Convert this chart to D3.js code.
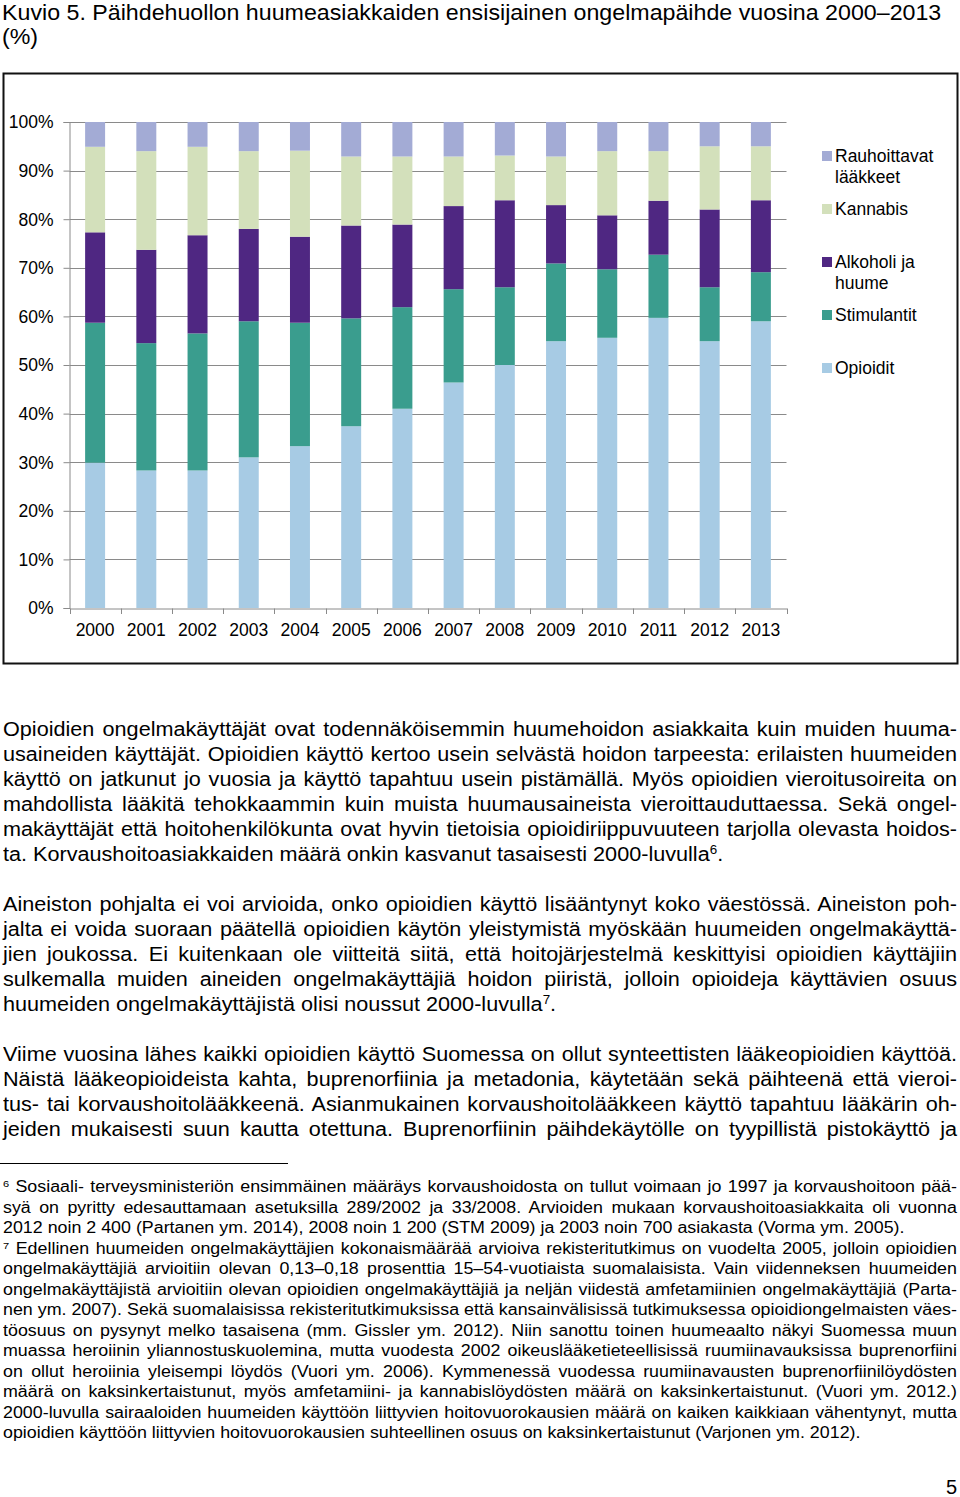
<!DOCTYPE html>
<html><head><meta charset="utf-8">
<script src="https://cdnjs.cloudflare.com/ajax/libs/d3/7.8.5/d3.min.js"></script>
<style>
html,body{margin:0;padding:0;background:#fff;}
#page{position:relative;width:960px;height:1497px;overflow:hidden;font-family:"Liberation Sans",Arial,sans-serif;color:#000;}
svg{position:absolute;left:0;top:0;}
.ln{position:absolute;left:3px;white-space:nowrap;text-align:justify;text-align-last:justify;transform-origin:0 0;}
.ln.last{text-align-last:left;}
.body{font-size:19.4px;line-height:25px;height:25px;width:855.6px;transform:scaleX(1.115);}
.fn{font-size:15.6px;line-height:20px;height:20px;width:833.9px;transform:scaleX(1.144);}
sup{font-size:62%;line-height:0;vertical-align:0.55em;}
</style></head>
<body><div id="page"></div>
<script>
// ---- data ----
const years = ["2000","2001","2002","2003","2004","2005","2006","2007","2008","2009","2010","2011","2012","2013"];
const opioidit     = [29.9, 28.3, 28.3, 31.0, 33.3, 37.4, 41.0, 46.4, 50.0, 54.9, 55.6, 59.7, 54.9, 59.0];
const stimulantit  = [28.8, 26.2, 28.2, 28.0, 25.4, 22.2, 20.9, 19.2, 16.0, 16.0, 14.1, 13.0, 11.1, 10.1];
const alkoholi     = [18.6, 19.2, 20.2, 19.0, 17.7, 19.1, 17.0, 17.1, 17.9, 12.0, 11.1, 11.1, 16.0, 14.8];
const kannabis     = [17.6, 20.3, 18.2, 16.0, 17.7, 14.2, 14.0, 10.2,  9.2, 10.0, 13.2, 10.2, 13.0, 11.1];
const rauhoittavat = [ 5.1,  6.0,  5.1,  6.0,  5.9,  7.1,  7.1,  7.1,  6.9,  7.1,  6.0,  6.0,  5.0,  5.0];
const seriesKeys   = ["Opioidit","Stimulantit","Alkoholi ja huume","Kannabis","Rauhoittavat lääkkeet"];
const seriesValues = [opioidit, stimulantit, alkoholi, kannabis, rauhoittavat];
const colors       = ["#a7cbe4","#3a9d8e","#4f2782","#d3e0bb","#a3abd5"];
const yTicks = [0,10,20,30,40,50,60,70,80,90,100];
const titleLines = ["Kuvio 5. Päihdehuollon huumeasiakkaiden ensisijainen ongelmapäihde vuosina 2000–2013","(%)"];

const para1 = [
 "Opioidien ongelmakäyttäjät ovat todennäköisemmin huumehoidon asiakkaita kuin muiden huuma-",
 "usaineiden käyttäjät. Opioidien käyttö kertoo usein selvästä hoidon tarpeesta: erilaisten huumeiden",
 "käyttö on jatkunut jo vuosia ja käyttö tapahtuu usein pistämällä. Myös opioidien vieroitusoireita on",
 "mahdollista lääkitä tehokkaammin kuin muista huumausaineista vieroittauduttaessa. Sekä ongel-",
 "makäyttäjät että hoitohenkilökunta ovat hyvin tietoisia opioidiriippuvuuteen tarjolla olevasta hoidos-",
 "ta. Korvaushoitoasiakkaiden määrä onkin kasvanut tasaisesti 2000-luvulla<sup>6</sup>."];
const para2 = [
 "Aineiston pohjalta ei voi arvioida, onko opioidien käyttö lisääntynyt koko väestössä. Aineiston poh-",
 "jalta ei voida suoraan päätellä opioidien käytön yleistymistä myöskään huumeiden ongelmakäyttä-",
 "jien joukossa. Ei kuitenkaan ole viitteitä siitä, että hoitojärjestelmä keskittyisi opioidien käyttäjiin",
 "sulkemalla muiden aineiden ongelmakäyttäjiä hoidon piiristä, jolloin opioideja käyttävien osuus",
 "huumeiden ongelmakäyttäjistä olisi noussut 2000-luvulla<sup>7</sup>."];
const para3 = [
 "Viime vuosina lähes kaikki opioidien käyttö Suomessa on ollut synteettisten lääkeopioidien käyttöä.",
 "Näistä lääkeopioideista kahta, buprenorfiinia ja metadonia, käytetään sekä päihteenä että vieroi-",
 "tus- tai korvaushoitolääkkeenä. Asianmukainen korvaushoitolääkkeen käyttö tapahtuu lääkärin oh-",
 "jeiden mukaisesti suun kautta otettuna. Buprenorfiinin päihdekäytölle on tyypillistä pistokäyttö ja"];
const fn6 = [
 "<sup>6</sup> Sosiaali- terveysministeriön ensimmäinen määräys korvaushoidosta on tullut voimaan jo 1997 ja korvaushoitoon pää-",
 "syä on pyritty edesauttamaan asetuksilla 289/2002 ja 33/2008. Arvioiden mukaan korvaushoitoasiakkaita oli vuonna",
 "2012 noin 2 400 (Partanen ym. 2014), 2008 noin 1 200 (STM 2009) ja 2003 noin 700 asiakasta (Vorma ym. 2005)."];
const fn7 = [
 "<sup>7</sup> Edellinen huumeiden ongelmakäyttäjien kokonaismäärää arvioiva rekisteritutkimus on vuodelta 2005, jolloin opioidien",
 "ongelmakäyttäjiä arvioitiin olevan 0,13–0,18 prosenttia 15–54-vuotiaista suomalaisista. Vain viidenneksen huumeiden",
 "ongelmakäyttäjistä arvioitiin olevan opioidien ongelmakäyttäjiä ja neljän viidestä amfetamiinien ongelmakäyttäjiä (Parta-",
 "nen ym. 2007). Sekä suomalaisissa rekisteritutkimuksissa että kansainvälisissä tutkimuksessa opioidiongelmaisten väes-",
 "töosuus on pysynyt melko tasaisena (mm. Gissler ym. 2012). Niin sanottu toinen huumeaalto näkyi Suomessa muun",
 "muassa heroiinin yliannostuskuolemina, mutta vuodesta 2002 oikeuslääketieteellisissä ruumiinavauksissa buprenorfiini",
 "on ollut heroiinia yleisempi löydös (Vuori ym. 2006). Kymmenessä vuodessa ruumiinavausten buprenorfiinilöydösten",
 "määrä on kaksinkertaistunut, myös amfetamiini- ja kannabislöydösten määrä on kaksinkertaistunut. (Vuori ym. 2012.)",
 "2000-luvulla sairaaloiden huumeiden käyttöön liittyvien hoitovuorokausien määrä on kaiken kaikkiaan vähentynyt, mutta",
 "opioidien käyttöön liittyvien hoitovuorokausien suhteellinen osuus on kaksinkertaistunut (Varjonen ym. 2012)."];
const pageNumber = "5";

// ---- chart ----
const page = d3.select("#page");
const svg = page.append("svg").attr("width",960).attr("height",1497);
const font = '"Liberation Sans", Arial, sans-serif';

svg.selectAll("text.title").data(titleLines).join("text")
  .attr("class","title").attr("transform",(d,i)=>`translate(2,${20+i*24}) scale(1.055,1)`)
  .attr("font-family",font).attr("font-size",22).attr("fill","#000").text(d=>d);

svg.append("rect").attr("x",3.5).attr("y",73.5).attr("width",954).attr("height",590)
  .attr("fill","none").attr("stroke","#111").attr("stroke-width",2);

const x = d3.scaleBand().domain(years).range([69.5,786.5]).paddingInner(0.61).paddingOuter(0.305);
const y = d3.scaleLinear().domain([0,100]).range([608,122]);

// gridlines
svg.append("g").selectAll("line").data(yTicks.filter(t=>t>0)).join("line")
  .attr("x1",69.5).attr("x2",786.5).attr("y1",d=>Math.round(y(d))+0.5).attr("y2",d=>Math.round(y(d))+0.5)
  .attr("stroke","#8a8a8a").attr("stroke-width",1);

// stacked bars
const table = years.map((yr,i)=>{const o={year:yr}; seriesKeys.forEach((k,j)=>o[k]=seriesValues[j][i]); return o;});
const stacked = d3.stack().keys(seriesKeys)(table);
svg.append("g").selectAll("g").data(stacked).join("g").attr("fill",(d,i)=>colors[i])
  .selectAll("rect").data(d=>d).join("rect")
  .attr("x",d=>x(d.data.year)).attr("width",x.bandwidth())
  .attr("y",d=>y(d[1])).attr("height",d=>y(d[0])-y(d[1]));

// y axis
const yAxis = svg.append("g").attr("transform","translate(69.5,0)")
  .call(d3.axisLeft(y).tickValues(yTicks).tickFormat(d=>d+"%").tickSize(6).tickPadding(10));
yAxis.select(".domain").attr("stroke","#8a8a8a");
yAxis.selectAll(".tick line").attr("stroke","#8a8a8a");
yAxis.selectAll("text").attr("font-family",font).attr("font-size",17.5).attr("fill","#000").attr("dy","0.34em");

// x axis: labels centered, ticks at category boundaries
const xAxis = svg.append("g").attr("transform","translate(0,608.5)")
  .call(d3.axisBottom(x).tickSize(0).tickPadding(15));
xAxis.select(".domain").attr("stroke","#8a8a8a");
xAxis.selectAll("text").attr("font-family",font).attr("font-size",17.5).attr("fill","#000");
const bounds = d3.range(years.length+1).map(i=>x.range()[0]+i*x.step());
svg.append("g").selectAll("line").data(bounds).join("line")
  .attr("x1",d=>Math.round(d)+0.5).attr("x2",d=>Math.round(d)+0.5).attr("y1",608.5).attr("y2",614)
  .attr("stroke","#8a8a8a");

// legend (top item first)
const legendY = [156,209,262,315,368];
const legendItems = seriesKeys.map((k,i)=>({key:k,color:colors[i]})).reverse();
const legendLabels = [["Rauhoittavat","lääkkeet"],["Kannabis"],["Alkoholi ja","huume"],["Stimulantit"],["Opioidit"]];
const lg = svg.append("g").selectAll("g").data(legendItems).join("g")
  .attr("transform",(d,i)=>`translate(822,${legendY[i]})`);
lg.append("rect").attr("x",0).attr("y",-5).attr("width",10).attr("height",10).attr("fill",d=>d.color);
lg.append("text").attr("font-family",font).attr("font-size",17.5).attr("fill","#000")
  .selectAll("tspan").data((d,i)=>legendLabels[i]).join("tspan")
  .attr("x",13).attr("y",(d,i)=>6+i*21).text(d=>d);

// ---- prose ----
function addLines(lines, startY, step, cls){
  lines.forEach((t,i)=>{
    page.append("div").attr("class","ln "+cls+(i===lines.length-1 && cls.indexOf("cont")<0 ? " last":""))
      .style("top",(startY+i*step)+"px").html(t);
  });
}
addLines(para1, 716.5, 25, "body");
addLines(para2, 891.5, 25, "body");
addLines(para3, 1041.5, 25, "body cont");
page.append("div").style("position","absolute").style("left","0px").style("top","1163px")
  .style("width","288px").style("height","1px").style("background","#000");
addLines(fn6, 1177, 20.5, "fn");
addLines(fn7, 1238.5, 20.5, "fn");
svg.append("text").attr("x",957).attr("y",1494).attr("text-anchor","end")
  .attr("font-family",font).attr("font-size",20).attr("fill","#000").text(pageNumber);
</script>
</body></html>
